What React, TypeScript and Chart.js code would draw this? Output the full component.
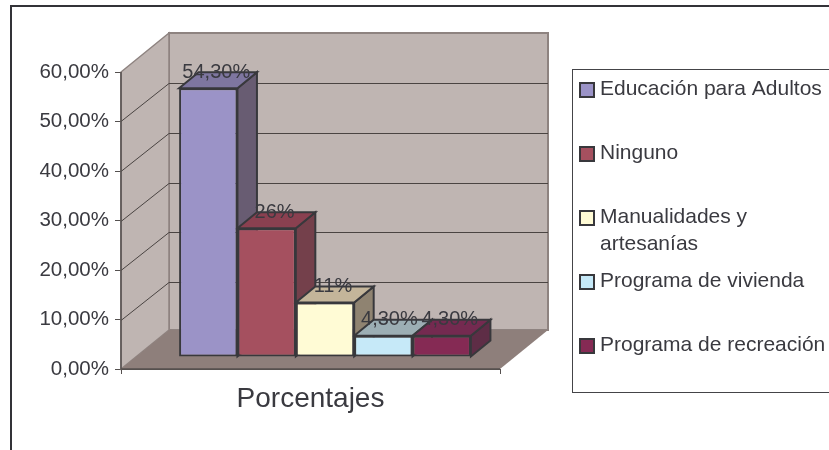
import React, { useEffect, useRef } from "react";
import { Chart, registerables } from "chart.js";

Chart.register(...registerables);

const categories = ["Porcentajes"];
const seriesNames = ["Educación para Adultos", "Ninguno", "Manualidades y\nartesanías", "Programa de vivienda", "Programa de recreación"];
const seriesValues = [54.3, 26, 11, 4.3, 4.3];
const valueLabels = ["54,30%", "26%", "11%", "4,30%", "4,30%"];
const frontColors = ["#9B93C7", "#A5505F", "#FFFBD5", "#C6E9F8", "#852A54"];
const topColors = ["#7E76A0", "#8A4050", "#C4B59A", "#9CAEB4", "#742A50"];
const sideColors = ["#685C72", "#74404B", "#8F8371", "#8F8371", "#5E2D46"];
const labelOffsets = [8, 8, 8, 6, 8];

const INK = "#3A3A40";
const EDGE = "#38383C";
const FONT = "'Liberation Sans', Arial, sans-serif";
const WALL = "#BFB5B2";
const FLOOR = "#8E7F7B";
const WALL_EDGE = "#8E8380";
const DEPTH_X = 48;
const DEPTH_Y = 39;
const GRID_DEPTH_Y = 38;
const BAR_SHIFT_X = 14.5;
const BAR_SHIFT_Y = -12;
const BAR_DX = 19.5;
const BAR_DY = 16;

function poly(ctx: CanvasRenderingContext2D, pts: number[][], fill: string | null, stroke: string | null, lw = 1) {
  ctx.beginPath();
  pts.forEach((p, i) => (i ? ctx.lineTo(p[0], p[1]) : ctx.moveTo(p[0], p[1])));
  ctx.closePath();
  if (fill) {
    ctx.fillStyle = fill;
    ctx.fill();
  }
  if (stroke) {
    ctx.strokeStyle = stroke;
    ctx.lineWidth = lw;
    ctx.stroke();
  }
}

const box3d = {
  id: "box3d",
  beforeDatasetsDraw(chart: any) {
    const { ctx, chartArea: a, scales } = chart;
    const { left: l, right: r, top: t, bottom: b } = a;
    ctx.save();
    // frame
    ctx.strokeStyle = "#333338";
    ctx.lineWidth = 2;
    ctx.beginPath();
    ctx.moveTo(11, 450);
    ctx.lineTo(11, 6);
    ctx.lineTo(829, 6);
    ctx.stroke();
    // walls
    poly(ctx, [[l + DEPTH_X, t - DEPTH_Y], [r + DEPTH_X, t - DEPTH_Y], [r + DEPTH_X, b - DEPTH_Y], [l + DEPTH_X, b - DEPTH_Y]], WALL, WALL_EDGE, 2);
    poly(ctx, [[l, b], [l, t], [l + DEPTH_X, t - DEPTH_Y], [l + DEPTH_X, b - DEPTH_Y]], WALL, WALL_EDGE, 1.5);
    poly(ctx, [[l, b], [r, b], [r + DEPTH_X, b - DEPTH_Y], [l + DEPTH_X, b - DEPTH_Y]], FLOOR, null);
    // gridlines from the value scale
    ctx.strokeStyle = "#4A4442";
    ctx.lineWidth = 1;
    scales.y.ticks.forEach((tick: any) => {
      if (tick.value === 0 || tick.value === 60) return;
      const y = Math.round(scales.y.getPixelForValue(tick.value)) + 0.5;
      ctx.beginPath();
      ctx.moveTo(l, y);
      ctx.lineTo(l + DEPTH_X, y - GRID_DEPTH_Y);
      ctx.lineTo(r + DEPTH_X, y - GRID_DEPTH_Y);
      ctx.stroke();
    });
    // axes
    ctx.strokeStyle = "#55504F";
    ctx.lineWidth = 1.5;
    ctx.beginPath();
    ctx.moveTo(l, t);
    ctx.lineTo(l, b);
    ctx.lineTo(r, b);
    ctx.stroke();
    // bar faces
    ctx.translate(BAR_SHIFT_X, BAR_SHIFT_Y);
    chart.data.datasets.forEach((_: any, i: number) => {
      const bar = chart.getDatasetMeta(i).data[0] as any;
      const x0 = bar.x - bar.width / 2;
      const x1 = bar.x + bar.width / 2;
      const yT = bar.y;
      const yB = bar.base;
      poly(ctx, [[x1, yT], [x1 + BAR_DX, yT - BAR_DY], [x1 + BAR_DX, yB - BAR_DY], [x1, yB]], sideColors[i], EDGE, 2);
      poly(ctx, [[x0, yT], [x0 + BAR_DX, yT - BAR_DY], [x1 + BAR_DX, yT - BAR_DY], [x1, yT]], topColors[i], EDGE, 2);
    });
    ctx.restore();
    ctx.save();
    ctx.translate(BAR_SHIFT_X, BAR_SHIFT_Y);
  },
  afterDatasetsDraw(chart: any) {
    const { ctx } = chart;
    ctx.restore();
    ctx.save();
    ctx.fillStyle = INK;
    ctx.font = `20px ${FONT}`;
    ctx.textAlign = "center";
    ctx.textBaseline = "middle";
    chart.data.datasets.forEach((_: any, i: number) => {
      const bar = chart.getDatasetMeta(i).data[0] as any;
      ctx.fillText(valueLabels[i], bar.x + BAR_SHIFT_X + labelOffsets[i], bar.y + BAR_SHIFT_Y - BAR_DY);
    });
    // legend
    const boxL = 572.5;
    const boxT = 69.5;
    ctx.strokeStyle = "#444448";
    ctx.lineWidth = 1;
    ctx.strokeRect(boxL, boxT, 300, 323);
    const rowY = [90, 154, 218, 282, 346];
    ctx.textAlign = "left";
    ctx.font = `21px ${FONT}`;
    chart.data.datasets.forEach((ds: any, i: number) => {
      ctx.fillStyle = ds.backgroundColor;
      ctx.fillRect(580, rowY[i] - 7, 14, 14);
      ctx.strokeStyle = EDGE;
      ctx.lineWidth = 2;
      ctx.strokeRect(580, rowY[i] - 7, 14, 14);
      ctx.fillStyle = INK;
      String(ds.label)
        .split("\n")
        .forEach((line: string, k: number) => ctx.fillText(line, 600, rowY[i] - 1 + k * 27));
    });
    ctx.restore();
  },
};

export default function App() {
  const ref = useRef<HTMLCanvasElement>(null);
  useEffect(() => {
    const chart = new Chart(ref.current as HTMLCanvasElement, {
      type: "bar",
      data: {
        labels: categories,
        datasets: seriesNames.map((name, i) => ({
          label: name,
          data: [seriesValues[i]],
          backgroundColor: frontColors[i],
          borderColor: EDGE,
          borderWidth: 2,
          borderSkipped: false,
          barPercentage: 1,
          categoryPercentage: 0.77,
          clip: false,
        })),
      },
      options: {
        animation: false,
        responsive: false,
        layout: { padding: { left: 0, right: 329, top: 72, bottom: 0 } },
        plugins: { legend: { display: false }, tooltip: { enabled: false }, title: { display: false } },
        scales: {
          x: {
            afterFit: (s: any) => {
              s.height = 81;
            },
            grid: { drawOnChartArea: false, drawTicks: true, tickLength: 5, color: "#55504F" },
            border: { color: "#55504F" },
            ticks: { color: INK, font: { family: FONT, size: 28 }, padding: 8, maxRotation: 0 },
          },
          y: {
            min: 0,
            max: 60,
            afterFit: (s: any) => {
              s.width = 121;
            },
            grid: { drawOnChartArea: false, drawTicks: true, tickLength: 6, color: "#55504F" },
            border: { color: "#55504F" },
            ticks: {
              stepSize: 10,
              color: INK,
              font: { family: FONT, size: 20.5 },
              padding: 6,
              callback: (v: any) => Number(v).toFixed(2).replace(".", ",") + "%",
            },
          },
        },
      },
      plugins: [box3d],
    } as any);
    return () => chart.destroy();
  }, []);
  return (
    <div style={{ position: "fixed", left: 0, top: 0, width: 829, height: 450, background: "#fff" }}>
      <canvas ref={ref} width={829} height={450} style={{ display: "block" }} />
    </div>
  );
}
